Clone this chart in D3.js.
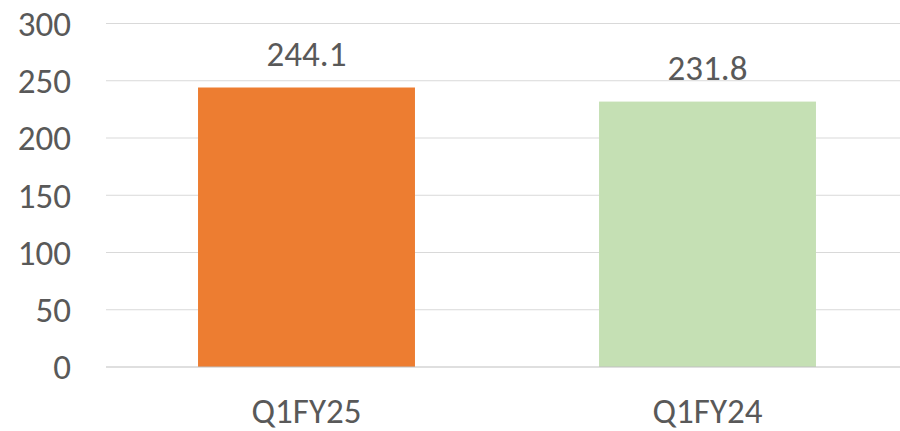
<!DOCTYPE html>
<html>
<head>
<meta charset="utf-8">
<script src="https://cdn.jsdelivr.net/npm/d3@7"></script>
<style>
  body { margin: 0; background: #fff; }
  text { font-family: Carlito, Calibri, Lato, sans-serif; fill: #595959; }
</style>
</head>
<body>
<svg width="900" height="431"></svg>
<script>
const categories = ['Q1FY25', 'Q1FY24'];
const values = [244.1, 231.8];
const colors = ['#ED7D31', '#C5E0B4'];
const yTicks = [0, 50, 100, 150, 200, 250, 300];

const svg = d3.select('svg');
const width = +svg.attr('width');
const height = +svg.attr('height');
const margin = { top: 23.5, right: -8, bottom: 64, left: 106 };
const fontSize = 35;

const x = d3.scaleBand()
    .domain(categories)
    .range([margin.left, width - margin.right])
    .paddingInner(0.459)
    .paddingOuter(0.2295);

const y = d3.scaleLinear()
    .domain([0, 300])
    .range([height - margin.bottom, margin.top]);

// gridlines
svg.append('g')
    .selectAll('line')
    .data(yTicks.filter(d => d > 0))
    .join('line')
    .attr('x1', margin.left)
    .attr('x2', width)
    .attr('y1', d => y(d))
    .attr('y2', d => y(d))
    .attr('stroke', '#D9D9D9')
    .attr('stroke-width', 1.2);

// y tick labels
svg.append('g')
    .selectAll('text')
    .data(yTicks)
    .join('text')
    .attr('x', 71)
    .attr('y', d => y(d))
    .attr('dy', '0.35em')
    .attr('text-anchor', 'end')
    .attr('font-size', fontSize)
    .text(d => d);

// bars
svg.append('g')
    .selectAll('rect')
    .data(values)
    .join('rect')
    .attr('x', (d, i) => x(categories[i]))
    .attr('width', x.bandwidth())
    .attr('y', d => y(d))
    .attr('height', d => y(0) - y(d))
    .attr('fill', (d, i) => colors[i]);

// axis line
svg.append('line')
    .attr('x1', margin.left)
    .attr('x2', width)
    .attr('y1', y(0))
    .attr('y2', y(0))
    .attr('stroke', '#BFBFBF')
    .attr('stroke-width', 1.2);

// value labels
svg.append('g')
    .selectAll('text')
    .data(values)
    .join('text')
    .attr('x', (d, i) => x(categories[i]) + x.bandwidth() / 2)
    .attr('y', d => y(d) - 22)
    .attr('text-anchor', 'middle')
    .attr('font-size', fontSize)
    .text(d => d.toFixed(1));

// category labels
svg.append('g')
    .selectAll('text')
    .data(categories)
    .join('text')
    .attr('x', d => x(d) + x.bandwidth() / 2)
    .attr('y', 423)
    .attr('text-anchor', 'middle')
    .attr('font-size', fontSize)
    .text(d => d);
</script>
</body>
</html>
